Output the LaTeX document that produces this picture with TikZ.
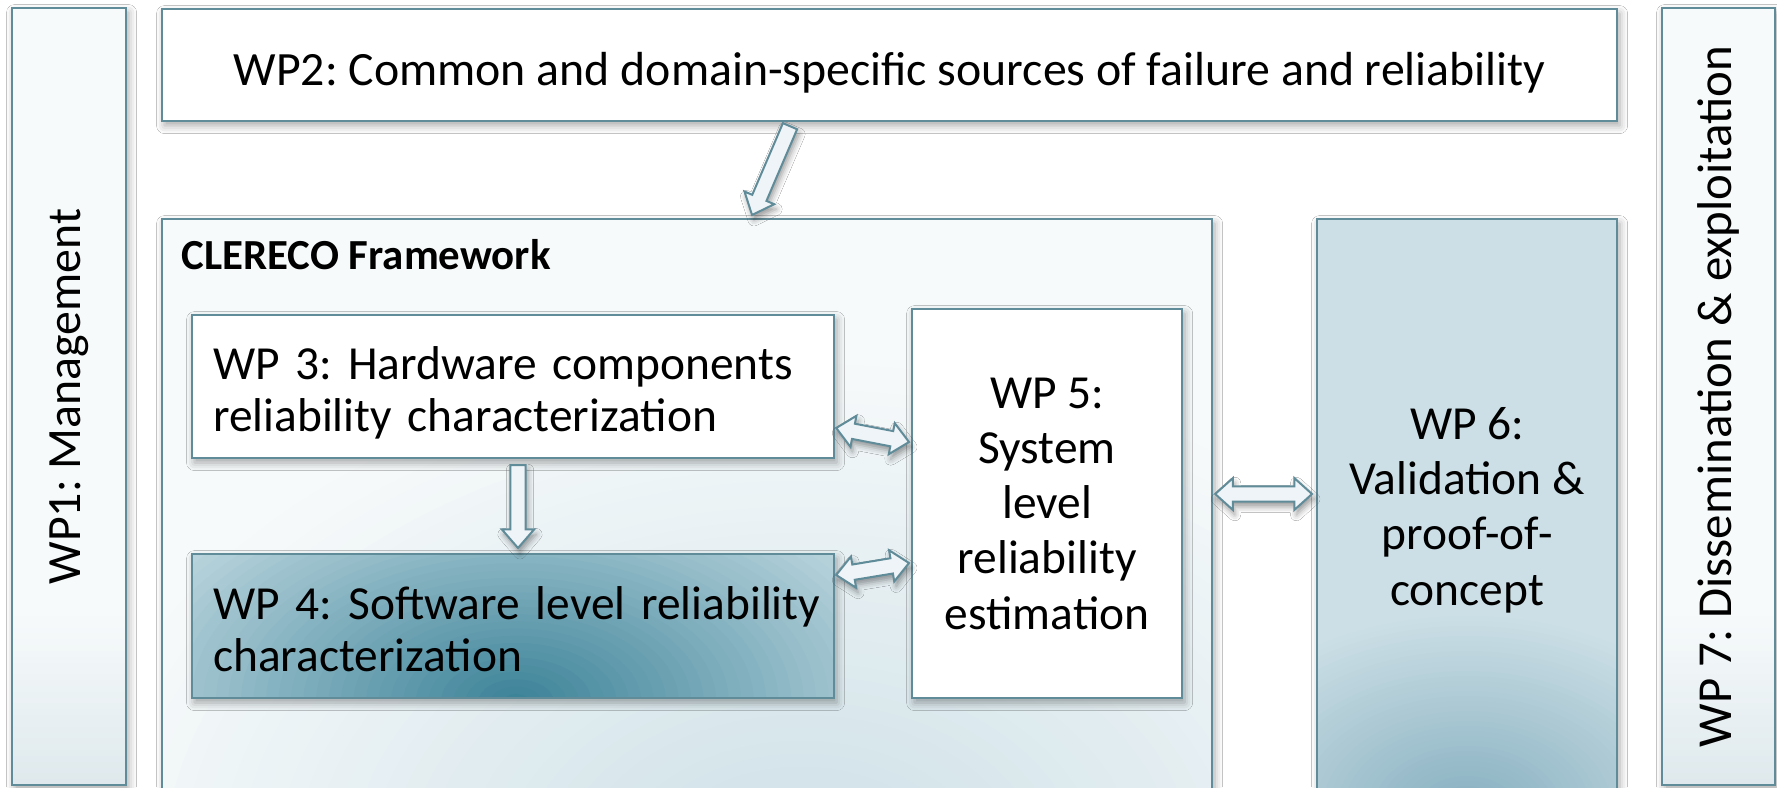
\documentclass[tikz,border=0pt]{standalone}
\usepackage{fontspec}
\setmainfont{Carlito}
\usepackage{graphicx}
\usetikzlibrary{calc,shadows.blur}
\frenchspacing

\definecolor{edge}{HTML}{608B99}
\definecolor{paleback}{HTML}{F7FAFB}
\definecolor{palefoot}{HTML}{DFE9ED}
\definecolor{arrowfill}{HTML}{EEF4F7}
\definecolor{swdark}{HTML}{3A8197}
\definecolor{swlight}{HTML}{D3E5EB}
\definecolor{fwinner}{HTML}{CCDFE6}
\definecolor{vdark}{HTML}{86AFBF}
\definecolor{vbase}{HTML}{CCDFE6}

% soft elliptical glow inside a box: inner colour, outer colour,
% offset of its centre from the box's bottom middle, x and y radius
\newcommand\glow[6]{%
  \coordinate (glowc) at ($(path picture bounding box.south)+(#3,#4)$);
  \foreach \k in {0,...,39}{%
    \pgfmathsetmacro\glowf{1-\k/40}%
    \pgfmathsetmacro\glowp{\k*2.5}%
    \fill[#1!\glowp!#2] (glowc) ellipse ({#5*\glowf} and {#6*\glowf});}}

% pale-to-blue fade at the foot of the side bands
\newcommand\footfade{%
  \foreach \k in {0,...,29}{%
    \pgfmathsetmacro\fadeh{175*(1-\k/30)}%
    \pgfmathsetmacro\fadep{\k*100/29}%
    \fill[palefoot!\fadep!paleback] (path picture bounding box.south west)
      rectangle ($(path picture bounding box.south east)+(0,-\fadeh)$);}}

\tikzset{
  pkg/.style={draw=edge, line width=0.22mm, rectangle, inner sep=0pt, anchor=north west,
    blur shadow={shadow xshift=0.25mm, shadow yshift=-0.45mm, shadow blur radius=0.8mm, shadow opacity=35}},
  plain/.style={pkg, fill=white},
  side/.style={pkg, fill=paleback, path picture={\footfade}},
  bigtxt/.style={font=\fontsize{13.6}{16}\selectfont},
  wptxt/.style={font=\fontsize{13.5}{15.7}\selectfont},
  pairtxt/.style={font=\fontsize{13.5}{14.8}\selectfont},
  blockarrow/.style={draw=edge, line width=0.2mm, fill=arrowfill, line join=miter,
    blur shadow={shadow xshift=0.2mm, shadow yshift=-0.5mm, shadow blur radius=0.6mm, shadow opacity=40}}
}

% two-headed block arrow between two named points
\newcommand\twowayarrow[2]{%
  \draw[blockarrow] let \p1=(#1), \p2=(#2),
      \n1={atan2(\y2-\y1,\x2-\x1)}, \n2={veclen(\x2-\x1,\y2-\y1)}, \n3={\n2-5pt} in
    ([shift={(\p1)},rotate=\n1]0pt,0pt)
 -- ([shift={(\p1)},rotate=\n1]5pt,4.5pt)
 -- ([shift={(\p1)},rotate=\n1]5pt,2.2pt)
 -- ([shift={(\p1)},rotate=\n1]\n3,2.2pt)
 -- ([shift={(\p1)},rotate=\n1]\n3,4.5pt)
 -- ([shift={(\p1)},rotate=\n1]\n2,0pt)
 -- ([shift={(\p1)},rotate=\n1]\n3,-4.5pt)
 -- ([shift={(\p1)},rotate=\n1]\n3,-2.2pt)
 -- ([shift={(\p1)},rotate=\n1]5pt,-2.2pt)
 -- ([shift={(\p1)},rotate=\n1]5pt,-4.5pt)
 -- cycle;}

% one-headed block arrow from the first named point to the second
\newcommand\onewayarrow[2]{%
  \draw[blockarrow] let \p1=(#1), \p2=(#2),
      \n1={atan2(\y2-\y1,\x2-\x1)}, \n2={veclen(\x2-\x1,\y2-\y1)}, \n3={\n2-5.3pt} in
    ([shift={(\p1)},rotate=\n1]0pt,2.2pt)
 -- ([shift={(\p1)},rotate=\n1]\n3,2.2pt)
 -- ([shift={(\p1)},rotate=\n1]\n3,4.6pt)
 -- ([shift={(\p1)},rotate=\n1]\n2,0pt)
 -- ([shift={(\p1)},rotate=\n1]\n3,-4.6pt)
 -- ([shift={(\p1)},rotate=\n1]\n3,-2.2pt)
 -- ([shift={(\p1)},rotate=\n1]0pt,-2.2pt)
 -- cycle;}

\begin{document}
\begin{tikzpicture}[x=0.1mm, y=-0.1mm]
\useasboundingbox (0,0) rectangle (1777,787);
\fill[white] (0,0) rectangle (1777,787);

% side bands
\node[side, minimum width=11.4mm, minimum height=77.7mm, bigtxt] (wp1) at (11,7)
  {\rotatebox{90}{WP1: Management}};
\node[side, minimum width=11.3mm, minimum height=77.7mm, font=\fontsize{13.9}{16}\selectfont] (wp7) at (1661,7)
  {\rotatebox{90}{WP 7: Dissemination \& exploitation}};

% top band
\node[plain, minimum width=145.5mm, minimum height=11.2mm, bigtxt, text height=14.6pt, text depth=2.9pt] (wp2) at (161,8)
  {WP2: Common and domain-specific sources of failure and reliability};

% framework container
\node[pkg, fill=paleback, minimum width=105mm, minimum height=58.2mm,
  path picture={\glow{fwinner}{paleback}{114}{70}{750}{520}}] (clereco) at (161,218) {};
\node[anchor=west, inner sep=0pt, font=\bfseries\fontsize{12.2}{14}\selectfont] (fwtitle) at (181,255)
  {CLERECO Framework};

% work packages inside the framework
\node[plain, minimum height=14.3mm, text width=60mm, inner xsep=2.1mm, align=left, pairtxt,
  text height=12.8pt] (wp3) at (191,314)
  {WP 3: Hardware components\\reliability characterization};
\node[pkg, fill=swlight, minimum height=14.4mm, text width=60mm, inner xsep=2.1mm, align=left, pairtxt,
  text height=11pt,
  path picture={\glow{swdark}{swlight}{3}{3}{500}{290}}] (wp4) at (191,553)
  {\mbox{WP 4: Software level reliability}\\characterization};
\node[plain, minimum width=27mm, minimum height=38.9mm, align=center, wptxt] (wp5) at (911,308)
  {WP 5:\\System\\level\\reliability\\estimation};

% validation box
\node[pkg, fill=vbase, minimum width=30mm, minimum height=58.2mm, align=center, wptxt,
  path picture={\glow{vdark}{vbase}{0}{10}{290}{200}}] (wp6) at (1316,218)
  {WP 6:\\Validation \&\\proof-of-\\concept};

% arrow end points on the box borders
\coordinate (srcOut) at ($(790,0 |- wp2.south)+(0,4)$);
\coordinate (fwIn)   at ($(752,0 |- clereco.north)+(0,-3)$);
\coordinate (hwOut)  at ($(518,0 |- wp3.south)+(0,6)$);
\coordinate (swIn)   at ($(518,0 |- wp4.north)+(0,-5)$);
\coordinate (hwSide) at ($(wp3.east |- 0,428)+(1,0)$);
\coordinate (hwSys)  at ($(wp5.west |- 0,442)+(-2,0)$);
\coordinate (swSide) at ($(wp4.east |- 0,575)+(1,0)$);
\coordinate (swSys)  at ($(wp5.west |- 0,563)+(-2,0)$);
\coordinate (fwSide) at ($(clereco.east |- 0,494)+(2,0)$);
\coordinate (valSide) at ($(wp6.west |- 0,494)+(-4,0)$);

\onewayarrow{srcOut}{fwIn}
\onewayarrow{hwOut}{swIn}
\twowayarrow{hwSide}{hwSys}
\twowayarrow{swSide}{swSys}
\twowayarrow{fwSide}{valSide}
\end{tikzpicture}
\end{document}
